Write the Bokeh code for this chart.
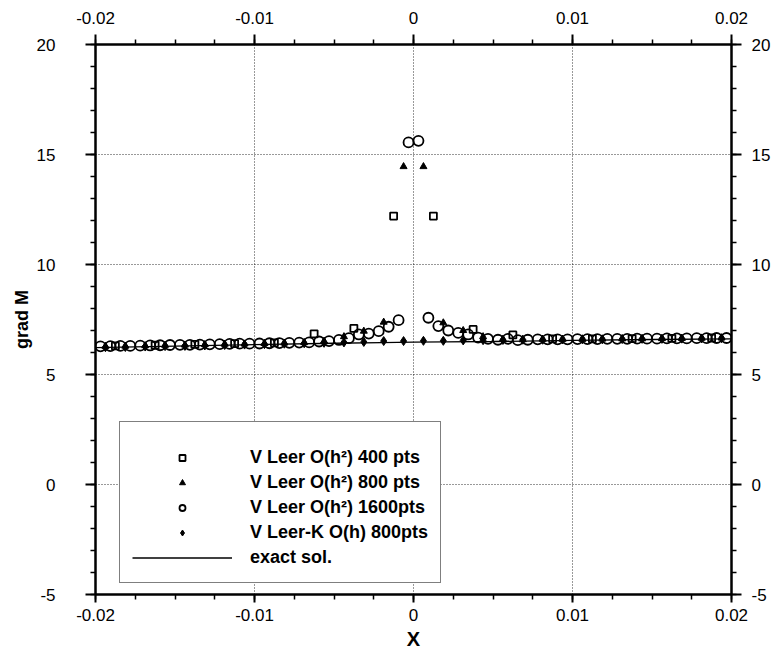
from bokeh.plotting import figure
from bokeh.models import (LinearAxis, FixedTicker, Range1d, Legend, LegendItem)
from bokeh.embed import file_html
from bokeh.resources import INLINE
import numpy as np

# ---------------- data ----------------
x_ticks = [-0.02, -0.01, 0.0, 0.01, 0.02]
x_tick_labels = ["-0.02", "-0.01", "0", "0.01", "0.02"]
y_ticks = [-5, 0, 5, 10, 15, 20]
y_tick_labels = ["-5", "0", "5", "10", "15", "20"]

# exact solution
exact_x = [-0.02, -0.015, -0.01, -0.005, -0.002, 0.0, 0.002, 0.005, 0.01, 0.015, 0.02]
exact_y = [6.22, 6.29, 6.36, 6.42, 6.45, 6.47, 6.48, 6.50, 6.55, 6.59, 6.62]

# V Leer O(h^2) 400 pts
sq_x = [-0.01875, -0.01625, -0.01375, -0.01125, -0.00875, -0.00625, -0.00375, -0.00125,
        0.00125, 0.00375, 0.00625, 0.00875, 0.01125, 0.01375, 0.01625, 0.01875]
sq_y = [6.30, 6.33, 6.37, 6.40, 6.44, 6.85, 7.10, 12.2,
        12.2, 7.05, 6.80, 6.62, 6.62, 6.63, 6.64, 6.66]

# V Leer O(h^2) 800 pts
tri_x = [-0.019375, -0.018125, -0.016875, -0.015625, -0.014375, -0.013125, -0.011875, -0.010625,
         -0.009375, -0.008125, -0.006875, -0.005625, -0.004375, -0.003125, -0.001875, -0.000625,
         0.000625, 0.001875, 0.003125, 0.004375, 0.005625, 0.006875, 0.008125, 0.009375,
         0.010625, 0.011875, 0.013125, 0.014375, 0.015625, 0.016875, 0.018125, 0.019375]
tri_y = [6.28, 6.29, 6.31, 6.33, 6.34, 6.36, 6.38, 6.39,
         6.41, 6.43, 6.45, 6.52, 6.72, 6.97, 7.38, 14.45,
         14.45, 7.35, 7.00, 6.72, 6.60, 6.58, 6.60, 6.60,
         6.60, 6.61, 6.62, 6.62, 6.63, 6.64, 6.65, 6.66]

# V Leer O(h^2) 1600 pts
circ_x = [-0.0196875, -0.0190625, -0.0184375, -0.0178125, -0.0171875, -0.0165625, -0.0159375, -0.0153125,
          -0.0146875, -0.0140625, -0.0134375, -0.0128125, -0.0121875, -0.0115625, -0.0109375, -0.0103125,
          -0.0096875, -0.0090625, -0.0084375, -0.0078125, -0.0071875, -0.0065625, -0.0059375, -0.0053125,
          -0.0046875, -0.0040625, -0.0034375, -0.0028125, -0.0021875, -0.0015625, -0.0009375, -0.0003125,
          0.0003125, 0.0009375, 0.0015625, 0.0021875, 0.0028125, 0.0034375, 0.0040625, 0.0046875,
          0.0053125, 0.0059375, 0.0065625, 0.0071875, 0.0078125, 0.0084375, 0.0090625, 0.0096875,
          0.0103125, 0.0109375, 0.0115625, 0.0121875, 0.0128125, 0.0134375, 0.0140625, 0.0146875,
          0.0153125, 0.0159375, 0.0165625, 0.0171875, 0.0178125, 0.0184375, 0.0190625, 0.0196875]
circ_y = [6.28, 6.29, 6.30, 6.30, 6.31, 6.32, 6.33, 6.34,
          6.35, 6.35, 6.36, 6.37, 6.38, 6.39, 6.40, 6.40,
          6.41, 6.42, 6.43, 6.44, 6.45, 6.46, 6.50, 6.52,
          6.57, 6.65, 6.82, 6.86, 6.97, 7.17, 7.47, 15.55,
          15.62, 7.58, 7.20, 7.00, 6.89, 6.82, 6.68, 6.62,
          6.58, 6.62, 6.56, 6.58, 6.60, 6.60, 6.60, 6.60,
          6.61, 6.61, 6.61, 6.62, 6.62, 6.62, 6.63, 6.63,
          6.63, 6.64, 6.64, 6.64, 6.65, 6.65, 6.66, 6.66]

# V Leer-K O(h) 800 pts
dia_x = tri_x
dia_y = [6.24, 6.25, 6.27, 6.29, 6.30, 6.32, 6.34, 6.36,
         6.38, 6.40, 6.42, 6.44, 6.46, 6.48, 6.52, 6.52,
         6.53, 6.53, 6.55, 6.56, 6.57, 6.58, 6.58, 6.59,
         6.60, 6.60, 6.61, 6.62, 6.62, 6.63, 6.64, 6.65]

labels = ["V Leer O(h\u00b2) 400 pts", "V Leer O(h\u00b2) 800 pts", "V Leer O(h\u00b2) 1600pts",
          "V Leer-K O(h) 800pts", "exact sol."]

FONT = "Liberation Sans"

p = figure(frame_width=636, frame_height=550, output_backend="svg", toolbar_location=None,
           x_range=Range1d(-0.02, 0.02), y_range=Range1d(-5, 20),
           min_border_left=95, min_border_right=46, min_border_top=44, min_border_bottom=52,
           background_fill_color="white", border_fill_color="white")
p.outline_line_color = "black"
p.outline_line_width = 2

xt = FixedTicker(ticks=x_ticks, minor_ticks=list(np.arange(-0.02, 0.02001, 0.0025)))
yt = FixedTicker(ticks=y_ticks, minor_ticks=list(range(-5, 21)))
x_over = {t: l for t, l in zip(x_ticks, x_tick_labels)}
y_over = {t: l for t, l in zip(y_ticks, y_tick_labels)}

def style(ax, ticker, over, standoff, tick_out):
    ax.ticker = ticker
    ax.major_label_overrides = over
    ax.axis_line_width = 2
    ax.axis_line_color = "black"
    ax.major_tick_line_color = "black"
    ax.minor_tick_line_color = "black"
    ax.major_tick_line_width = 2
    ax.minor_tick_line_width = 1.5
    ax.major_tick_out = tick_out
    ax.major_tick_in = 0
    ax.minor_tick_out = 5
    ax.minor_tick_in = 0
    ax.major_label_text_font = FONT
    ax.major_label_text_font_size = "17px"
    ax.major_label_text_color = "black"
    ax.major_label_standoff = standoff
    ax.axis_label_text_color = "black"

xb = p.xaxis[0]
style(xb, xt, x_over, 6, 8)
xb.axis_label = "X"
xb.axis_label_text_font = FONT
xb.axis_label_text_font_style = "bold"
xb.axis_label_text_font_size = "20px"
xb.axis_label_standoff = 4

yl = p.yaxis[0]
style(yl, yt, y_over, 30, 10)
yl.axis_label = "grad M"
yl.axis_label_text_font = FONT
yl.axis_label_text_font_style = "bold"
yl.axis_label_text_font_size = "18px"
yl.axis_label_standoff = 2

xtop = LinearAxis()
style(xtop, xt, x_over, 11, 10)
p.add_layout(xtop, "above")
yr = LinearAxis()
style(yr, yt, y_over, 10, 10)
p.add_layout(yr, "right")

for g, t in ((p.xgrid[0], xt), (p.ygrid[0], yt)):
    g.ticker = t
    g.grid_line_color = "black"
    g.grid_line_alpha = 0.8
    g.grid_line_dash = "1 2"
    g.grid_line_width = 1

r_line = p.line(exact_x, exact_y, line_color="black", line_width=1.3)
r_dia = p.scatter(dia_x, dia_y, marker="diamond", size=9, fill_color="black", line_color="black")
r_tri = p.scatter(tri_x, tri_y, marker="triangle", size=7, fill_color="black", line_color="black")
r_sq = p.scatter(sq_x, sq_y, marker="square", size=7, fill_color=None, line_color="black", line_width=1.8)
r_circ = p.scatter(circ_x, circ_y, marker="circle", size=10, fill_color=None, line_color="black", line_width=1.8)

legend = Legend(items=[
    LegendItem(label=labels[0], renderers=[r_sq]),
    LegendItem(label=labels[1], renderers=[r_tri]),
    LegendItem(label=labels[2], renderers=[r_circ]),
    LegendItem(label=labels[3], renderers=[r_dia]),
    LegendItem(label=labels[4], renderers=[r_line]),
], location=(24, 11))
legend.title = " "
legend.title_text_font_size = "8px"
legend.title_standoff = 2
legend.label_text_font = FONT
legend.label_text_font_style = "bold"
legend.label_text_font_size = "18px"
legend.label_text_color = "black"
legend.label_height = 25
legend.glyph_height = 15
legend.glyph_width = 100
legend.spacing = 0
legend.padding = 12
legend.label_standoff = 18
legend.border_line_color = "black"
legend.border_line_width = 1
legend.background_fill_alpha = 1
legend.margin = 0
p.add_layout(legend, "center")

open("out.html", "w").write(file_html(p, INLINE))
